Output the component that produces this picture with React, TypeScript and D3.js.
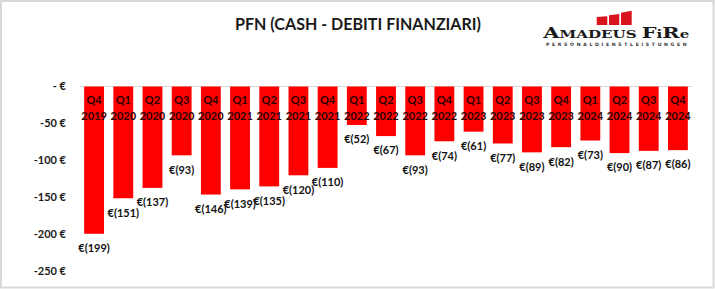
import React from "react";
import * as d3 from "d3";

const quarters = ["Q4","Q1","Q2","Q3","Q4","Q1","Q2","Q3","Q4","Q1","Q2","Q3","Q4","Q1","Q2","Q3","Q4","Q1","Q2","Q3","Q4"];
const years = ["2019","2020","2020","2020","2020","2021","2021","2021","2021","2022","2022","2022","2022","2023","2023","2023","2023","2024","2024","2024","2024"];
const values = [-199,-151,-137,-93,-146,-139,-135,-120,-110,-52,-67,-93,-74,-61,-77,-89,-82,-73,-90,-87,-86];
const yTicks = [0,-50,-100,-150,-200,-250];
const title = "PFN (CASH - DEBITI FINANZIARI)";

const W = 715, H = 289;
const FONT = "Lato, 'Open Sans', sans-serif";

export default function App() {
  const ids = values.map((_, i) => String(i));
  const x = d3.scaleBand<string>().domain(ids).range([79.5, 692.5]).paddingInner(0.32).paddingOuter(0.16);
  const y = d3.scaleLinear().domain([-250, 0]).range([271.5, 86.5]);
  const fmtTick = (v: number) => (v === 0 ? "- €" : `${v} €`);
  return (
    <div style={{ position: "absolute", left: 0, top: 0 }}>
      <svg width={W} height={H} style={{ display: "block" }} fontFamily={FONT}>
        <rect x={0} y={0} width={W} height={H} fill="#ffffff" />
        <rect x={1} y={1} width={W - 2.5} height={H - 2.5} fill="none" stroke="#d9d9d9" strokeWidth={2} />
        <text x={235} y={30} fontSize={17} fontWeight={700} fill="#1a1a1a" textLength={246} lengthAdjust="spacingAndGlyphs">{title}</text>

        {/* logo */}
        <g>
          <polygon points="596.7,25 596.7,17 607.3,16.2 607.3,25" fill="#d9141e" />
          <polygon points="609,25 609,15.2 619.3,14 619.3,25" fill="#d9141e" />
          <polygon points="621,25 621,12.8 631.7,10.7 631.7,25" fill="#d9141e" />
          <text x={543.3} y={37.7} fontFamily="'DejaVu Serif', 'Liberation Serif', serif" fontWeight={600} fill="#1a1a1a" textLength={146} lengthAdjust="spacingAndGlyphs">
            <tspan fontSize={14.5}>A</tspan><tspan fontSize={10.5}>MADEUS </tspan><tspan fontSize={14.5}>F</tspan><tspan fontSize={10.5}>i</tspan><tspan fontSize={14.5}>R</tspan><tspan fontSize={10.5}>e</tspan>
          </text>
          <text x={546} y={46} fontFamily="'DejaVu Sans', sans-serif" fontSize={4.6} fontWeight={700} fill="#333" textLength={140.7} lengthAdjust="spacing">PERSONALDIENSTLEISTUNGEN</text>
        </g>

        <line x1={79.5} x2={692.5} y1={y(0)} y2={y(0)} stroke="#d9d9d9" strokeWidth={1} />

        {yTicks.map((t) => (
          <text key={t} x={66} y={y(t)} dy="0.35em" textAnchor="end" fontSize={11} fontWeight={700} fill="#1a1a1a">{fmtTick(t)}</text>
        ))}

        {values.map((v, i) => {
          const bx = x(String(i))!;
          const bw = x.bandwidth();
          const cx = bx + bw / 2;
          return (
            <g key={i}>
              <rect x={bx} y={y(0)} width={bw} height={y(v) - y(0)} fill="#ff0000" />
              <text x={cx} y={100} dy="0.35em" textAnchor="middle" fontSize={11} fontWeight={700} fill="#2a0000">{quarters[i]}</text>
              <text x={cx} y={116} dy="0.35em" textAnchor="middle" fontSize={11} fontWeight={700} fill="#2a0000">{years[i]}</text>
              <text x={cx} y={y(v) + 14.5} dy="0.35em" textAnchor="middle" fontSize={11} fontWeight={700} fill="#111">{`€(${-v})`}</text>
            </g>
          );
        })}
      </svg>
    </div>
  );
}
